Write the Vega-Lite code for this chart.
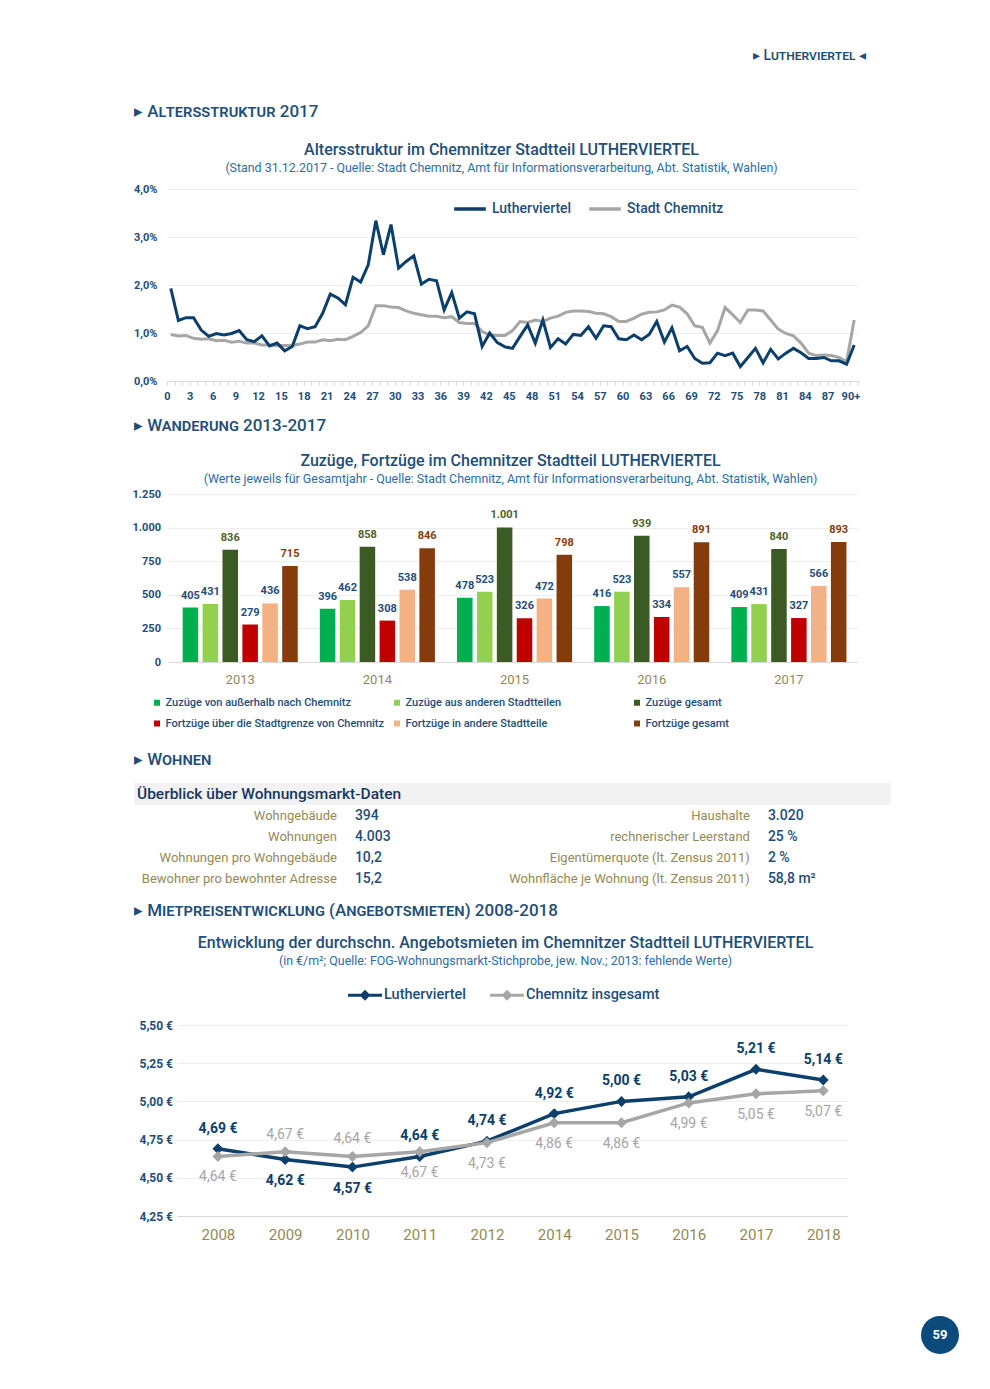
{
 "$schema": "https://vega.github.io/schema/vega-lite/v6.json",
 "background": "white",
 "padding": {"left": 85, "top": 40, "right": 0, "bottom": 0},
 "spacing": 0,
 "bounds": "flush",
 "center": true,
 "resolve": {"scale": {"color": "independent", "x": "independent", "y": "independent", "xOffset": "independent"}, "legend": {"color": "independent"}},
 "config": {
  "font": "Roboto, sans-serif",
  "view": {"stroke": null},
  "locale": {"number": {"decimal": ",", "thousands": ".", "grouping": [3], "currency": ["", " €"]}},
  "axis": {"labelFont": "Roboto, sans-serif", "labelColor": "#1f4e79", "labelFontSize": 11, "labelFontWeight": "bold", "gridColor": "#eeeeee", "domainColor": "#d9d9d9", "tickColor": "#d9d9d9", "title": null},
  "legend": {"labelFont": "Roboto, sans-serif", "labelColor": "#1f4e79", "padding": 0},
  "text": {"font": "Roboto, sans-serif"},
  "title": {"font": "Roboto, sans-serif", "fontSize": 16, "fontWeight": 500, "color": "#1f4e79", "subtitleFont": "Roboto, sans-serif", "subtitleFontSize": 12.4, "subtitleColor": "#2e6da4", "subtitlePadding": 4, "anchor": "middle", "frame": "group"},
  "style": {"smallcaps": {"fontVariant": "small-caps"}}
 },
 "datasets": {
  "alter": [
   {"alter":0,"gebiet":"Lutherviertel","anteil":0.0193},{"alter":1,"gebiet":"Lutherviertel","anteil":0.0126},{"alter":2,"gebiet":"Lutherviertel","anteil":0.0132},{"alter":3,"gebiet":"Lutherviertel","anteil":0.0132},{"alter":4,"gebiet":"Lutherviertel","anteil":0.0106},{"alter":5,"gebiet":"Lutherviertel","anteil":0.0093},{"alter":6,"gebiet":"Lutherviertel","anteil":0.0099},{"alter":7,"gebiet":"Lutherviertel","anteil":0.0096},{"alter":8,"gebiet":"Lutherviertel","anteil":0.0099},{"alter":9,"gebiet":"Lutherviertel","anteil":0.0105},
   {"alter":10,"gebiet":"Lutherviertel","anteil":0.0086},{"alter":11,"gebiet":"Lutherviertel","anteil":0.0082},{"alter":12,"gebiet":"Lutherviertel","anteil":0.0094},{"alter":13,"gebiet":"Lutherviertel","anteil":0.0073},{"alter":14,"gebiet":"Lutherviertel","anteil":0.0079},{"alter":15,"gebiet":"Lutherviertel","anteil":0.0063},{"alter":16,"gebiet":"Lutherviertel","anteil":0.0072},{"alter":17,"gebiet":"Lutherviertel","anteil":0.0115},{"alter":18,"gebiet":"Lutherviertel","anteil":0.0109},{"alter":19,"gebiet":"Lutherviertel","anteil":0.0113},
   {"alter":20,"gebiet":"Lutherviertel","anteil":0.0141},{"alter":21,"gebiet":"Lutherviertel","anteil":0.0181},{"alter":22,"gebiet":"Lutherviertel","anteil":0.0173},{"alter":23,"gebiet":"Lutherviertel","anteil":0.0159},{"alter":24,"gebiet":"Lutherviertel","anteil":0.0216},{"alter":25,"gebiet":"Lutherviertel","anteil":0.0206},{"alter":26,"gebiet":"Lutherviertel","anteil":0.0242},{"alter":27,"gebiet":"Lutherviertel","anteil":0.0334},{"alter":28,"gebiet":"Lutherviertel","anteil":0.0263},{"alter":29,"gebiet":"Lutherviertel","anteil":0.0326},
   {"alter":30,"gebiet":"Lutherviertel","anteil":0.0235},{"alter":31,"gebiet":"Lutherviertel","anteil":0.0249},{"alter":32,"gebiet":"Lutherviertel","anteil":0.0261},{"alter":33,"gebiet":"Lutherviertel","anteil":0.0202},{"alter":34,"gebiet":"Lutherviertel","anteil":0.0212},{"alter":35,"gebiet":"Lutherviertel","anteil":0.0209},{"alter":36,"gebiet":"Lutherviertel","anteil":0.0148},{"alter":37,"gebiet":"Lutherviertel","anteil":0.0184},{"alter":38,"gebiet":"Lutherviertel","anteil":0.0131},{"alter":39,"gebiet":"Lutherviertel","anteil":0.0144},
   {"alter":40,"gebiet":"Lutherviertel","anteil":0.0140},{"alter":41,"gebiet":"Lutherviertel","anteil":0.0072},{"alter":42,"gebiet":"Lutherviertel","anteil":0.0100},{"alter":43,"gebiet":"Lutherviertel","anteil":0.0080},{"alter":44,"gebiet":"Lutherviertel","anteil":0.0071},{"alter":45,"gebiet":"Lutherviertel","anteil":0.0068},{"alter":46,"gebiet":"Lutherviertel","anteil":0.0093},{"alter":47,"gebiet":"Lutherviertel","anteil":0.0117},{"alter":48,"gebiet":"Lutherviertel","anteil":0.0079},{"alter":49,"gebiet":"Lutherviertel","anteil":0.0127},
   {"alter":50,"gebiet":"Lutherviertel","anteil":0.0070},{"alter":51,"gebiet":"Lutherviertel","anteil":0.0088},{"alter":52,"gebiet":"Lutherviertel","anteil":0.0077},{"alter":53,"gebiet":"Lutherviertel","anteil":0.0097},{"alter":54,"gebiet":"Lutherviertel","anteil":0.0095},{"alter":55,"gebiet":"Lutherviertel","anteil":0.0113},{"alter":56,"gebiet":"Lutherviertel","anteil":0.0089},{"alter":57,"gebiet":"Lutherviertel","anteil":0.0115},{"alter":58,"gebiet":"Lutherviertel","anteil":0.0113},{"alter":59,"gebiet":"Lutherviertel","anteil":0.0088},
   {"alter":60,"gebiet":"Lutherviertel","anteil":0.0086},{"alter":61,"gebiet":"Lutherviertel","anteil":0.0096},{"alter":62,"gebiet":"Lutherviertel","anteil":0.0086},{"alter":63,"gebiet":"Lutherviertel","anteil":0.0097},{"alter":64,"gebiet":"Lutherviertel","anteil":0.0124},{"alter":65,"gebiet":"Lutherviertel","anteil":0.0081},{"alter":66,"gebiet":"Lutherviertel","anteil":0.0111},{"alter":67,"gebiet":"Lutherviertel","anteil":0.0063},{"alter":68,"gebiet":"Lutherviertel","anteil":0.0072},{"alter":69,"gebiet":"Lutherviertel","anteil":0.0047},
   {"alter":70,"gebiet":"Lutherviertel","anteil":0.0037},{"alter":71,"gebiet":"Lutherviertel","anteil":0.0038},{"alter":72,"gebiet":"Lutherviertel","anteil":0.0058},{"alter":73,"gebiet":"Lutherviertel","anteil":0.0053},{"alter":74,"gebiet":"Lutherviertel","anteil":0.0058},{"alter":75,"gebiet":"Lutherviertel","anteil":0.0030},{"alter":76,"gebiet":"Lutherviertel","anteil":0.0049},{"alter":77,"gebiet":"Lutherviertel","anteil":0.0068},{"alter":78,"gebiet":"Lutherviertel","anteil":0.0038},{"alter":79,"gebiet":"Lutherviertel","anteil":0.0066},
   {"alter":80,"gebiet":"Lutherviertel","anteil":0.0046},{"alter":81,"gebiet":"Lutherviertel","anteil":0.0058},{"alter":82,"gebiet":"Lutherviertel","anteil":0.0068},{"alter":83,"gebiet":"Lutherviertel","anteil":0.0059},{"alter":84,"gebiet":"Lutherviertel","anteil":0.0047},{"alter":85,"gebiet":"Lutherviertel","anteil":0.0047},{"alter":86,"gebiet":"Lutherviertel","anteil":0.0049},{"alter":87,"gebiet":"Lutherviertel","anteil":0.0042},{"alter":88,"gebiet":"Lutherviertel","anteil":0.0042},{"alter":89,"gebiet":"Lutherviertel","anteil":0.0035},
   {"alter":90,"gebiet":"Lutherviertel","anteil":0.0075},
   {"alter":0,"gebiet":"Stadt Chemnitz","anteil":0.0097},{"alter":1,"gebiet":"Stadt Chemnitz","anteil":0.0094},{"alter":2,"gebiet":"Stadt Chemnitz","anteil":0.0095},{"alter":3,"gebiet":"Stadt Chemnitz","anteil":0.0089},{"alter":4,"gebiet":"Stadt Chemnitz","anteil":0.0087},{"alter":5,"gebiet":"Stadt Chemnitz","anteil":0.0088},{"alter":6,"gebiet":"Stadt Chemnitz","anteil":0.0084},{"alter":7,"gebiet":"Stadt Chemnitz","anteil":0.0085},{"alter":8,"gebiet":"Stadt Chemnitz","anteil":0.0081},{"alter":9,"gebiet":"Stadt Chemnitz","anteil":0.0083},
   {"alter":10,"gebiet":"Stadt Chemnitz","anteil":0.0079},{"alter":11,"gebiet":"Stadt Chemnitz","anteil":0.0079},{"alter":12,"gebiet":"Stadt Chemnitz","anteil":0.0075},{"alter":13,"gebiet":"Stadt Chemnitz","anteil":0.0075},{"alter":14,"gebiet":"Stadt Chemnitz","anteil":0.0074},{"alter":15,"gebiet":"Stadt Chemnitz","anteil":0.0074},{"alter":16,"gebiet":"Stadt Chemnitz","anteil":0.0074},{"alter":17,"gebiet":"Stadt Chemnitz","anteil":0.0077},{"alter":18,"gebiet":"Stadt Chemnitz","anteil":0.0081},{"alter":19,"gebiet":"Stadt Chemnitz","anteil":0.0081},
   {"alter":20,"gebiet":"Stadt Chemnitz","anteil":0.0086},{"alter":21,"gebiet":"Stadt Chemnitz","anteil":0.0084},{"alter":22,"gebiet":"Stadt Chemnitz","anteil":0.0087},{"alter":23,"gebiet":"Stadt Chemnitz","anteil":0.0086},{"alter":24,"gebiet":"Stadt Chemnitz","anteil":0.0093},{"alter":25,"gebiet":"Stadt Chemnitz","anteil":0.0101},{"alter":26,"gebiet":"Stadt Chemnitz","anteil":0.0115},{"alter":27,"gebiet":"Stadt Chemnitz","anteil":0.0157},{"alter":28,"gebiet":"Stadt Chemnitz","anteil":0.0157},{"alter":29,"gebiet":"Stadt Chemnitz","anteil":0.0154},
   {"alter":30,"gebiet":"Stadt Chemnitz","anteil":0.0153},{"alter":31,"gebiet":"Stadt Chemnitz","anteil":0.0146},{"alter":32,"gebiet":"Stadt Chemnitz","anteil":0.0141},{"alter":33,"gebiet":"Stadt Chemnitz","anteil":0.0138},{"alter":34,"gebiet":"Stadt Chemnitz","anteil":0.0135},{"alter":35,"gebiet":"Stadt Chemnitz","anteil":0.0135},{"alter":36,"gebiet":"Stadt Chemnitz","anteil":0.0132},{"alter":37,"gebiet":"Stadt Chemnitz","anteil":0.0134},{"alter":38,"gebiet":"Stadt Chemnitz","anteil":0.0122},{"alter":39,"gebiet":"Stadt Chemnitz","anteil":0.0120},
   {"alter":40,"gebiet":"Stadt Chemnitz","anteil":0.0120},{"alter":41,"gebiet":"Stadt Chemnitz","anteil":0.0103},{"alter":42,"gebiet":"Stadt Chemnitz","anteil":0.0096},{"alter":43,"gebiet":"Stadt Chemnitz","anteil":0.0095},{"alter":44,"gebiet":"Stadt Chemnitz","anteil":0.0095},{"alter":45,"gebiet":"Stadt Chemnitz","anteil":0.0105},{"alter":46,"gebiet":"Stadt Chemnitz","anteil":0.0124},{"alter":47,"gebiet":"Stadt Chemnitz","anteil":0.0122},{"alter":48,"gebiet":"Stadt Chemnitz","anteil":0.0127},{"alter":49,"gebiet":"Stadt Chemnitz","anteil":0.0124},
   {"alter":50,"gebiet":"Stadt Chemnitz","anteil":0.0131},{"alter":51,"gebiet":"Stadt Chemnitz","anteil":0.0135},{"alter":52,"gebiet":"Stadt Chemnitz","anteil":0.0143},{"alter":53,"gebiet":"Stadt Chemnitz","anteil":0.0146},{"alter":54,"gebiet":"Stadt Chemnitz","anteil":0.0146},{"alter":55,"gebiet":"Stadt Chemnitz","anteil":0.0145},{"alter":56,"gebiet":"Stadt Chemnitz","anteil":0.0141},{"alter":57,"gebiet":"Stadt Chemnitz","anteil":0.0140},{"alter":58,"gebiet":"Stadt Chemnitz","anteil":0.0134},{"alter":59,"gebiet":"Stadt Chemnitz","anteil":0.0124},
   {"alter":60,"gebiet":"Stadt Chemnitz","anteil":0.0124},{"alter":61,"gebiet":"Stadt Chemnitz","anteil":0.0131},{"alter":62,"gebiet":"Stadt Chemnitz","anteil":0.0139},{"alter":63,"gebiet":"Stadt Chemnitz","anteil":0.0143},{"alter":64,"gebiet":"Stadt Chemnitz","anteil":0.0144},{"alter":65,"gebiet":"Stadt Chemnitz","anteil":0.0148},{"alter":66,"gebiet":"Stadt Chemnitz","anteil":0.0158},{"alter":67,"gebiet":"Stadt Chemnitz","anteil":0.0154},{"alter":68,"gebiet":"Stadt Chemnitz","anteil":0.0140},{"alter":69,"gebiet":"Stadt Chemnitz","anteil":0.0115},
   {"alter":70,"gebiet":"Stadt Chemnitz","anteil":0.0112},{"alter":71,"gebiet":"Stadt Chemnitz","anteil":0.0079},{"alter":72,"gebiet":"Stadt Chemnitz","anteil":0.0105},{"alter":73,"gebiet":"Stadt Chemnitz","anteil":0.0153},{"alter":74,"gebiet":"Stadt Chemnitz","anteil":0.0138},{"alter":75,"gebiet":"Stadt Chemnitz","anteil":0.0122},{"alter":76,"gebiet":"Stadt Chemnitz","anteil":0.0148},{"alter":77,"gebiet":"Stadt Chemnitz","anteil":0.0148},{"alter":78,"gebiet":"Stadt Chemnitz","anteil":0.0146},{"alter":79,"gebiet":"Stadt Chemnitz","anteil":0.0127},
   {"alter":80,"gebiet":"Stadt Chemnitz","anteil":0.0108},{"alter":81,"gebiet":"Stadt Chemnitz","anteil":0.0099},{"alter":82,"gebiet":"Stadt Chemnitz","anteil":0.0094},{"alter":83,"gebiet":"Stadt Chemnitz","anteil":0.0079},{"alter":84,"gebiet":"Stadt Chemnitz","anteil":0.0058},{"alter":85,"gebiet":"Stadt Chemnitz","anteil":0.0053},{"alter":86,"gebiet":"Stadt Chemnitz","anteil":0.0054},{"alter":87,"gebiet":"Stadt Chemnitz","anteil":0.0053},{"alter":88,"gebiet":"Stadt Chemnitz","anteil":0.0049},{"alter":89,"gebiet":"Stadt Chemnitz","anteil":0.0040},
   {"alter":90,"gebiet":"Stadt Chemnitz","anteil":0.0127}
  ],
  "wanderung": [
   {"jahr":"2013","art":"Zuzüge von außerhalb nach Chemnitz","anzahl":405},{"jahr":"2013","art":"Zuzüge aus anderen Stadtteilen","anzahl":431},{"jahr":"2013","art":"Zuzüge gesamt","anzahl":836},{"jahr":"2013","art":"Fortzüge über die Stadtgrenze von Chemnitz","anzahl":279},{"jahr":"2013","art":"Fortzüge in andere Stadtteile","anzahl":436},{"jahr":"2013","art":"Fortzüge gesamt","anzahl":715},
   {"jahr":"2014","art":"Zuzüge von außerhalb nach Chemnitz","anzahl":396},{"jahr":"2014","art":"Zuzüge aus anderen Stadtteilen","anzahl":462},{"jahr":"2014","art":"Zuzüge gesamt","anzahl":858},{"jahr":"2014","art":"Fortzüge über die Stadtgrenze von Chemnitz","anzahl":308},{"jahr":"2014","art":"Fortzüge in andere Stadtteile","anzahl":538},{"jahr":"2014","art":"Fortzüge gesamt","anzahl":846},
   {"jahr":"2015","art":"Zuzüge von außerhalb nach Chemnitz","anzahl":478},{"jahr":"2015","art":"Zuzüge aus anderen Stadtteilen","anzahl":523},{"jahr":"2015","art":"Zuzüge gesamt","anzahl":1001},{"jahr":"2015","art":"Fortzüge über die Stadtgrenze von Chemnitz","anzahl":326},{"jahr":"2015","art":"Fortzüge in andere Stadtteile","anzahl":472},{"jahr":"2015","art":"Fortzüge gesamt","anzahl":798},
   {"jahr":"2016","art":"Zuzüge von außerhalb nach Chemnitz","anzahl":416},{"jahr":"2016","art":"Zuzüge aus anderen Stadtteilen","anzahl":523},{"jahr":"2016","art":"Zuzüge gesamt","anzahl":939},{"jahr":"2016","art":"Fortzüge über die Stadtgrenze von Chemnitz","anzahl":334},{"jahr":"2016","art":"Fortzüge in andere Stadtteile","anzahl":557},{"jahr":"2016","art":"Fortzüge gesamt","anzahl":891},
   {"jahr":"2017","art":"Zuzüge von außerhalb nach Chemnitz","anzahl":409},{"jahr":"2017","art":"Zuzüge aus anderen Stadtteilen","anzahl":431},{"jahr":"2017","art":"Zuzüge gesamt","anzahl":840},{"jahr":"2017","art":"Fortzüge über die Stadtgrenze von Chemnitz","anzahl":327},{"jahr":"2017","art":"Fortzüge in andere Stadtteile","anzahl":566},{"jahr":"2017","art":"Fortzüge gesamt","anzahl":893}
  ],
  "wohnen": [
   {"seite":"links","zeile":1,"merkmal":"Wohngebäude","wert":"394"},
   {"seite":"links","zeile":2,"merkmal":"Wohnungen","wert":"4.003"},
   {"seite":"links","zeile":3,"merkmal":"Wohnungen pro Wohngebäude","wert":"10,2"},
   {"seite":"links","zeile":4,"merkmal":"Bewohner pro bewohnter Adresse","wert":"15,2"},
   {"seite":"rechts","zeile":1,"merkmal":"Haushalte","wert":"3.020"},
   {"seite":"rechts","zeile":2,"merkmal":"rechnerischer Leerstand","wert":"25 %"},
   {"seite":"rechts","zeile":3,"merkmal":"Eigentümerquote (lt. Zensus 2011)","wert":"2 %"},
   {"seite":"rechts","zeile":4,"merkmal":"Wohnfläche je Wohnung (lt. Zensus 2011)","wert":"58,8 m²"}
  ],
  "miete": [
   {"jahr":"2008","gebiet":"Lutherviertel","miete":4.69},{"jahr":"2009","gebiet":"Lutherviertel","miete":4.62},{"jahr":"2010","gebiet":"Lutherviertel","miete":4.57},{"jahr":"2011","gebiet":"Lutherviertel","miete":4.64},{"jahr":"2012","gebiet":"Lutherviertel","miete":4.74},{"jahr":"2014","gebiet":"Lutherviertel","miete":4.92},{"jahr":"2015","gebiet":"Lutherviertel","miete":5.00},{"jahr":"2016","gebiet":"Lutherviertel","miete":5.03},{"jahr":"2017","gebiet":"Lutherviertel","miete":5.21},{"jahr":"2018","gebiet":"Lutherviertel","miete":5.14},
   {"jahr":"2008","gebiet":"Chemnitz insgesamt","miete":4.64},{"jahr":"2009","gebiet":"Chemnitz insgesamt","miete":4.67},{"jahr":"2010","gebiet":"Chemnitz insgesamt","miete":4.64},{"jahr":"2011","gebiet":"Chemnitz insgesamt","miete":4.67},{"jahr":"2012","gebiet":"Chemnitz insgesamt","miete":4.73},{"jahr":"2014","gebiet":"Chemnitz insgesamt","miete":4.86},{"jahr":"2015","gebiet":"Chemnitz insgesamt","miete":4.86},{"jahr":"2016","gebiet":"Chemnitz insgesamt","miete":4.99},{"jahr":"2017","gebiet":"Chemnitz insgesamt","miete":5.05},{"jahr":"2018","gebiet":"Chemnitz insgesamt","miete":5.07}
  ]
 },
 "vconcat": [
  {"width": 707, "height": 32, "data": {"values": [{"t": "▸ Lutherviertel ◂"}]},
   "mark": {"type": "text", "style": "smallcaps", "align": "right", "baseline": "middle", "fontSize": 14, "fontWeight": 500, "color": "#1f4e79"},
   "encoding": {"text": {"field": "t"}, "x": {"value": "width"}}},
  {"width": 759, "height": 80, "data": {"values": [{"t": "▸ Altersstruktur 2017"}]},
   "mark": {"type": "text", "style": "smallcaps", "align": "left", "baseline": "middle", "dx": 1, "fontSize": 17, "fontWeight": 500, "color": "#1f4e79"},
   "encoding": {"text": {"field": "t"}, "x": {"value": 0}}},
  {"width": 1, "height": 37, "data": {"values": []}, "mark": "point"},
  {"width": 691, "height": 192,
   "title": {"text": "Altersstruktur im Chemnitzer Stadtteil LUTHERVIERTEL", "subtitle": "(Stand 31.12.2017 - Quelle: Stadt Chemnitz, Amt für Informationsverarbeitung, Abt. Statistik, Wahlen)", "dx": -11, "offset": 9},
   "data": {"name": "alter"},
   "encoding": {
    "x": {"field": "alter", "type": "quantitative", "scale": {"domain": [-0.5, 90.5], "nice": false, "zero": false},
          "axis": {"values": [-0.5,0.5,1.5,2.5,3.5,4.5,5.5,6.5,7.5,8.5,9.5,10.5,11.5,12.5,13.5,14.5,15.5,16.5,17.5,18.5,19.5,20.5,21.5,22.5,23.5,24.5,25.5,26.5,27.5,28.5,29.5,30.5,31.5,32.5,33.5,34.5,35.5,36.5,37.5,38.5,39.5,40.5,41.5,42.5,43.5,44.5,45.5,46.5,47.5,48.5,49.5,50.5,51.5,52.5,53.5,54.5,55.5,56.5,57.5,58.5,59.5,60.5,61.5,62.5,63.5,64.5,65.5,66.5,67.5,68.5,69.5,70.5,71.5,72.5,73.5,74.5,75.5,76.5,77.5,78.5,79.5,80.5,81.5,82.5,83.5,84.5,85.5,86.5,87.5,88.5,89.5,90.5],
                   "labelExpr": "(datum.value + 0.5) % 3 === 0 && datum.value < 90 ? ((datum.value + 0.5) === 90 ? '90+' : format(datum.value + 0.5, 'd')) : ''",
                   "labelOverlap": false, "labelFlush": false, "grid": false, "tickSize": 4, "labelPadding": 5, "labelFontSize": 11}},
    "y": {"field": "anteil", "type": "quantitative", "scale": {"domain": [0, 0.04], "nice": false},
          "axis": {"values": [0, 0.01, 0.02, 0.03, 0.04], "format": ".1%", "domain": false, "ticks": false, "labelPadding": 10, "labelFontSize": 11}},
    "color": {"field": "gebiet", "type": "nominal", "scale": {"domain": ["Lutherviertel", "Stadt Chemnitz"], "range": ["#0c3f6b", "#a6a6a6"]},
              "legend": {"orient": "none", "legendX": 285, "legendY": 2, "direction": "horizontal", "title": null, "symbolType": "stroke", "symbolSize": 1000, "symbolStrokeWidth": 3.5, "labelFontSize": 14, "labelFontWeight": 500, "labelOffset": 4, "columnPadding": 10}}
   },
   "layer": [
    {"transform": [{"filter": "datum.gebiet == 'Stadt Chemnitz'"}], "mark": {"type": "line", "strokeWidth": 3}},
    {"transform": [{"filter": "datum.gebiet == 'Lutherviertel'"}], "mark": {"type": "line", "strokeWidth": 3}}
   ]},
  {"width": 759, "height": 90, "data": {"values": [{"t": "▸ Wanderung 2013-2017"}]},
   "mark": {"type": "text", "style": "smallcaps", "align": "left", "baseline": "middle", "dx": 1, "fontSize": 17, "fontWeight": 500, "color": "#1f4e79"},
   "encoding": {"text": {"field": "t"}, "x": {"value": 0}}},
  {"width": 1, "height": 23, "data": {"values": []}, "mark": "point"},
  {"width": 690, "height": 168,
   "title": {"text": "Zuzüge, Fortzüge im Chemnitzer Stadtteil LUTHERVIERTEL", "subtitle": "(Werte jeweils für Gesamtjahr - Quelle: Stadt Chemnitz, Amt für Informationsverarbeitung, Abt. Statistik, Wahlen)", "dx": -2, "offset": 3},
   "data": {"name": "wanderung"},
   "encoding": {
    "x": {"field": "jahr", "type": "nominal", "scale": {"paddingInner": 0, "paddingOuter": 0.015, "align": 1},
          "axis": {"labelColor": "#948a54", "labelFontWeight": "normal", "labelFontSize": 13, "ticks": false, "labelPadding": 11, "labelAngle": 0}},
    "xOffset": {"field": "art", "type": "nominal", "scale": {"domain": ["Zuzüge von außerhalb nach Chemnitz", "Zuzüge aus anderen Stadtteilen", "Zuzüge gesamt", "Fortzüge über die Stadtgrenze von Chemnitz", "Fortzüge in andere Stadtteile", "Fortzüge gesamt"], "paddingInner": 0.22, "paddingOuter": 0.555}},
    "y": {"field": "anzahl", "type": "quantitative", "scale": {"domain": [0, 1250], "nice": false},
          "axis": {"values": [0, 250, 500, 750, 1000, 1250], "format": ",d", "domain": false, "ticks": false, "labelPadding": 7, "labelFontSize": 11}}
   },
   "layer": [
    {"mark": {"type": "bar"},
     "encoding": {"color": {"field": "art", "type": "nominal",
       "scale": {"domain": ["Zuzüge von außerhalb nach Chemnitz", "Zuzüge aus anderen Stadtteilen", "Zuzüge gesamt", "Fortzüge über die Stadtgrenze von Chemnitz", "Fortzüge in andere Stadtteile", "Fortzüge gesamt"], "range": ["#00b050", "#92d050", "#3b5a24", "#c00000", "#f4b183", "#843c0c"]},
       "legend": {"orient": "none", "legendX": -16, "legendY": 203, "direction": "horizontal", "columns": 3, "gridAlign": "all", "title": null, "symbolType": "square", "symbolSize": 36, "symbolStrokeWidth": 0, "labelFontSize": 11, "labelFontWeight": 500, "labelOffset": 3, "columnPadding": 7, "rowPadding": 9, "labelLimit": 400}}}},
    {"mark": {"type": "text", "baseline": "alphabetic", "dy": -9, "fontSize": 11, "fontWeight": "bold"},
     "encoding": {"text": {"field": "anzahl", "type": "quantitative", "format": ",d"},
       "color": {"condition": [{"test": "datum.art == 'Zuzüge gesamt'", "value": "#4f6228"}, {"test": "datum.art == 'Fortzüge gesamt'", "value": "#843c0c"}], "value": "#1f4e79"}}}
   ]},
  {"width": 1, "height": 75, "data": {"values": []}, "mark": "point"},
  {"width": 759, "height": 46, "data": {"values": [{"t": "▸ Wohnen"}]},
   "mark": {"type": "text", "style": "smallcaps", "align": "left", "baseline": "middle", "dx": 1, "fontSize": 17, "fontWeight": 500, "color": "#1f4e79"},
   "encoding": {"text": {"field": "t"}, "x": {"value": 0}}},
  {"width": 757, "height": 22, "view": {"fill": "#f2f2f2"}, "data": {"values": [{"t": "Überblick über Wohnungsmarkt-Daten"}]},
   "mark": {"type": "text", "align": "left", "baseline": "middle", "dx": 3, "fontSize": 15.5, "fontWeight": 500, "color": "#17375e"},
   "encoding": {"text": {"field": "t"}, "x": {"value": 0}}},
  {"width": 757, "height": 84, "data": {"name": "wohnen"},
   "encoding": {
    "x": {"field": "seite", "type": "nominal", "scale": {"type": "point", "domain": ["links", "rechts"], "padding": 0.4165, "align": 0.616}, "axis": null},
    "y": {"field": "zeile", "type": "ordinal", "scale": {"type": "point", "padding": 0.5}, "axis": null}
   },
   "layer": [
    {"mark": {"type": "text", "align": "right", "baseline": "middle", "dx": -9, "fontSize": 13, "color": "#948a54"}, "encoding": {"text": {"field": "merkmal"}}},
    {"mark": {"type": "text", "align": "left", "baseline": "middle", "dx": 9, "fontSize": 14, "fontWeight": 500, "color": "#1f4e79"}, "encoding": {"text": {"field": "wert"}}}
   ]},
  {"width": 759, "height": 44, "data": {"values": [{"t": "▸ Mietpreisentwicklung (Angebotsmieten) 2008-2018"}]},
   "mark": {"type": "text", "style": "smallcaps", "align": "left", "baseline": "middle", "dx": 1, "fontSize": 17, "fontWeight": 500, "color": "#1f4e79"},
   "encoding": {"text": {"field": "t"}, "x": {"value": 0}}},
  {"width": 1, "height": 92, "data": {"values": []}, "mark": "point"},
  {"width": 670, "height": 191,
   "title": {"text": "Entwicklung der durchschn. Angebotsmieten im Chemnitzer Stadtteil LUTHERVIERTEL", "subtitle": "(in €/m²; Quelle: FOG-Wohnungsmarkt-Stichprobe, jew. Nov.; 2013: fehlende Werte)", "dx": -7, "offset": 11},
   "data": {"name": "miete"},
   "encoding": {
    "x": {"field": "jahr", "type": "ordinal", "scale": {"type": "point", "padding": 0.481, "align": 0.625},
          "axis": {"labelColor": "#948a54", "labelFontSize": 15, "labelFontWeight": "normal", "ticks": false, "labelPadding": 11, "labelAngle": 0}},
    "y": {"field": "miete", "type": "quantitative", "scale": {"domain": [4.25, 5.5], "nice": false, "zero": false},
          "axis": {"values": [4.25, 4.5, 4.75, 5, 5.25, 5.5], "format": ".2f", "labelExpr": "datum.label + ' €'", "domain": false, "ticks": false, "labelPadding": 5, "labelFontSize": 12}}
   },
   "layer": [
    {"transform": [{"filter": "datum.gebiet == 'Lutherviertel'"}], "mark": {"type": "line", "strokeWidth": 3.5, "color": "#0c3f6b"}},
    {"transform": [{"filter": "datum.gebiet == 'Lutherviertel'"}], "mark": {"type": "point", "shape": "diamond", "filled": true, "size": 120, "opacity": 1},
     "encoding": {"color": {"field": "gebiet", "type": "nominal", "scale": {"domain": ["Lutherviertel", "Chemnitz insgesamt"], "range": ["#0c3f6b", "#a6a6a6"]},
       "legend": {"orient": "none", "legendX": 170.5, "legendY": -47, "direction": "horizontal", "title": null, "symbolType": "M-1,-0.09H1V0.09H-1Z M-0.32,0L0,-0.32L0.32,0L0,0.32Z", "symbolSize": 1156, "symbolStrokeWidth": 0, "symbolOpacity": 1, "labelFontSize": 14.5, "labelFontWeight": 500, "labelOffset": 2, "columnPadding": 24}}}},
    {"transform": [{"filter": "datum.gebiet == 'Chemnitz insgesamt'"}], "mark": {"type": "line", "strokeWidth": 3.5, "color": "#a6a6a6"}},
    {"transform": [{"filter": "datum.gebiet == 'Chemnitz insgesamt'"}], "mark": {"type": "point", "shape": "diamond", "filled": true, "size": 120, "opacity": 1},
     "encoding": {"color": {"field": "gebiet", "type": "nominal", "scale": {"domain": ["Lutherviertel", "Chemnitz insgesamt"], "range": ["#0c3f6b", "#a6a6a6"]},
       "legend": {"orient": "none", "legendX": 170.5, "legendY": -47, "direction": "horizontal", "title": null, "symbolType": "M-1,-0.09H1V0.09H-1Z M-0.32,0L0,-0.32L0.32,0L0,0.32Z", "symbolSize": 1156, "symbolStrokeWidth": 0, "symbolOpacity": 1, "labelFontSize": 14.5, "labelFontWeight": 500, "labelOffset": 2, "columnPadding": 24}}}},
    {"transform": [{"filter": "datum.gebiet == 'Lutherviertel' && datum.jahr != '2009' && datum.jahr != '2010'"}],
     "mark": {"type": "text", "baseline": "middle", "dy": -20, "fontSize": 14, "fontWeight": "bold", "color": "#0c3f6b"},
     "encoding": {"text": {"field": "miete", "type": "quantitative", "format": "$.2f"}}},
    {"transform": [{"filter": "datum.gebiet == 'Lutherviertel' && (datum.jahr == '2009' || datum.jahr == '2010')"}],
     "mark": {"type": "text", "baseline": "middle", "dy": 22, "fontSize": 14, "fontWeight": "bold", "color": "#0c3f6b"},
     "encoding": {"text": {"field": "miete", "type": "quantitative", "format": "$.2f"}}},
    {"transform": [{"filter": "datum.gebiet == 'Chemnitz insgesamt' && (datum.jahr == '2009' || datum.jahr == '2010')"}],
     "mark": {"type": "text", "baseline": "middle", "dy": -17, "fontSize": 14, "color": "#a6a6a6"},
     "encoding": {"text": {"field": "miete", "type": "quantitative", "format": "$.2f"}}},
    {"transform": [{"filter": "datum.gebiet == 'Chemnitz insgesamt' && datum.jahr != '2009' && datum.jahr != '2010'"}],
     "mark": {"type": "text", "baseline": "middle", "dy": 21, "fontSize": 14, "color": "#a6a6a6"},
     "encoding": {"text": {"field": "miete", "type": "quantitative", "format": "$.2f"}}}
   ]},
  {"width": 1, "height": 100, "data": {"values": []}, "mark": "point"},
  {"width": 855, "height": 38, "data": {"values": [{"seite": "59"}]},
   "layer": [
    {"mark": {"type": "point", "shape": "circle", "filled": true, "size": 1444, "opacity": 1, "color": "#0b4a7a"}, "encoding": {"x": {"value": "width"}}},
    {"mark": {"type": "text", "align": "center", "baseline": "middle", "fontSize": 13, "fontWeight": "bold", "color": "white"}, "encoding": {"x": {"value": "width"}, "text": {"field": "seite"}}}
   ]}
 ]
}
